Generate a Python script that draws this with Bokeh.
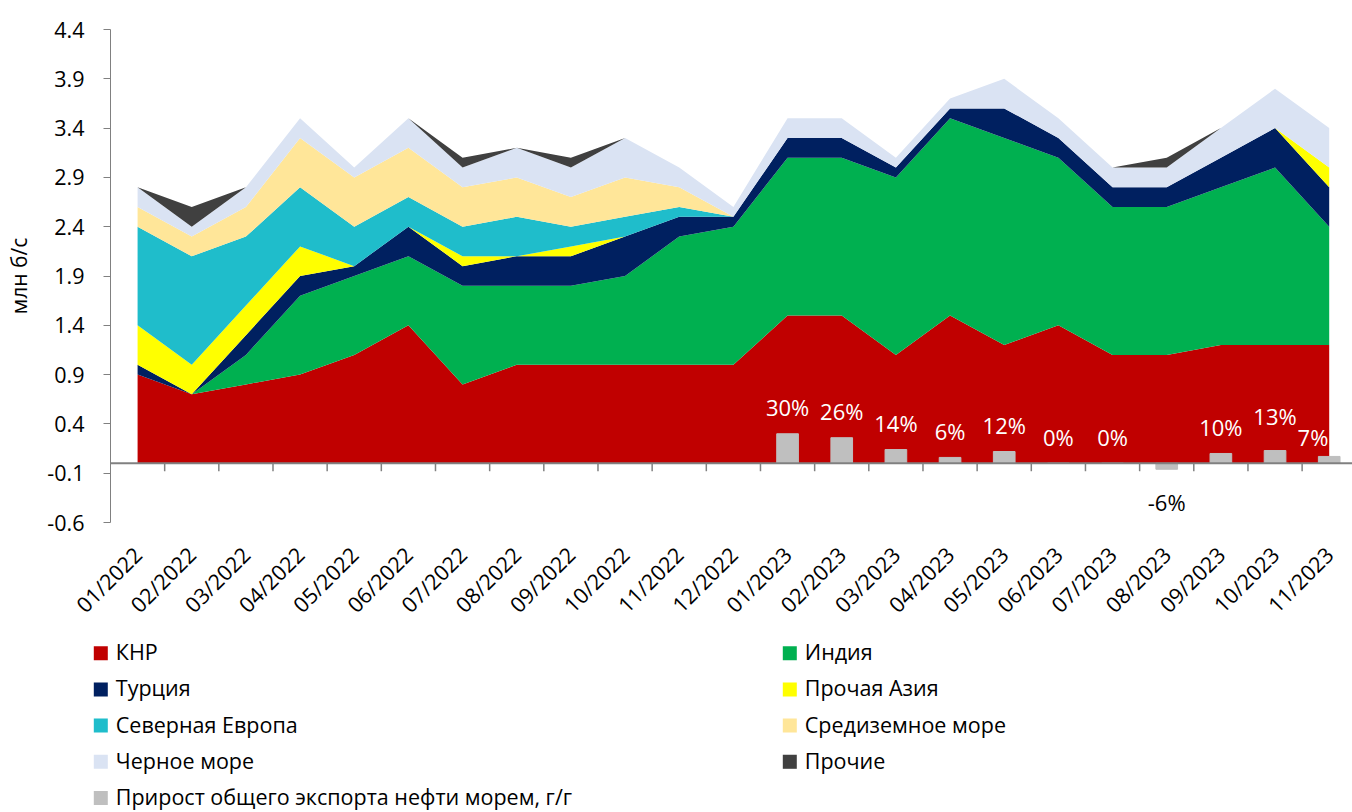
import math
from bokeh.plotting import figure
from bokeh.layouts import column
from bokeh.models import (ColumnDataSource, Range1d, FixedTicker, PrintfTickFormatter, Span)
from bokeh.core.properties import value
from bokeh.embed import file_html
from bokeh.resources import INLINE

# ---------------- data ----------------
months = ["01/2022", "02/2022", "03/2022", "04/2022", "05/2022", "06/2022",
          "07/2022", "08/2022", "09/2022", "10/2022", "11/2022", "12/2022",
          "01/2023", "02/2023", "03/2023", "04/2023", "05/2023", "06/2023",
          "07/2023", "08/2023", "09/2023", "10/2023", "11/2023"]

china      = [0.9, 0.7, 0.8, 0.9, 1.1, 1.4, 0.8, 1.0, 1.0, 1.0, 1.0, 1.0,
              1.5, 1.5, 1.1, 1.5, 1.2, 1.4, 1.1, 1.1, 1.2, 1.2, 1.2]
india      = [0.0, 0.0, 0.3, 0.8, 0.8, 0.7, 1.0, 0.8, 0.8, 0.9, 1.3, 1.4,
              1.6, 1.6, 1.8, 2.0, 2.1, 1.7, 1.5, 1.5, 1.6, 1.8, 1.2]
turkey     = [0.1, 0.0, 0.2, 0.2, 0.1, 0.3, 0.2, 0.3, 0.3, 0.4, 0.2, 0.1,
              0.2, 0.2, 0.1, 0.1, 0.3, 0.2, 0.2, 0.2, 0.3, 0.4, 0.4]
other_asia = [0.4, 0.3, 0.3, 0.3, 0.0, 0.0, 0.1, 0.0, 0.1, 0.0, 0.0, 0.0,
              0.0, 0.0, 0.0, 0.0, 0.0, 0.0, 0.0, 0.0, 0.0, 0.0, 0.2]
north_eu   = [1.0, 1.1, 0.7, 0.6, 0.4, 0.3, 0.3, 0.4, 0.2, 0.2, 0.1, 0.0,
              0.0, 0.0, 0.0, 0.0, 0.0, 0.0, 0.0, 0.0, 0.0, 0.0, 0.0]
mediterr   = [0.2, 0.2, 0.3, 0.5, 0.5, 0.5, 0.4, 0.4, 0.3, 0.4, 0.2, 0.0,
              0.0, 0.0, 0.0, 0.0, 0.0, 0.0, 0.0, 0.0, 0.0, 0.0, 0.0]
black_sea  = [0.2, 0.1, 0.2, 0.2, 0.1, 0.3, 0.2, 0.3, 0.3, 0.4, 0.2, 0.1,
              0.2, 0.2, 0.1, 0.1, 0.3, 0.2, 0.2, 0.2, 0.3, 0.4, 0.4]
others     = [0.0, 0.2, 0.0, 0.0, 0.0, 0.0, 0.1, 0.0, 0.1, 0.0, 0.0, 0.0,
              0.0, 0.0, 0.0, 0.0, 0.0, 0.0, 0.0, 0.1, 0.0, 0.0, 0.0]

growth_months = ["01/2023", "02/2023", "03/2023", "04/2023", "05/2023", "06/2023",
                 "07/2023", "08/2023", "09/2023", "10/2023", "11/2023"]
growth = [0.30, 0.26, 0.14, 0.06, 0.12, 0.00, 0.00, -0.06, 0.10, 0.13, 0.07]

series_names = ["КНР", "Индия", "Турция", "Прочая Азия", "Северная Европа",
                "Средиземное море", "Черное море", "Прочие"]
bar_name = "Прирост общего экспорта нефти морем, г/г"
y_title = "млн б/с"

# ---------------- style ----------------
colors = ["#C00000", "#00B050", "#002060", "#FFFF00", "#1FBDCB",
          "#FFE699", "#DAE3F3", "#404040"]
bar_color = "#BFBFBF"
FONT = "Open Sans"
AXIS_GRAY = "#808080"
# manual label nudges (data units) for 13% and 7%
label_dx = [0, 0, 0, 0, 0, 0, 0, 0, 0, 0, -0.3]
label_dy = [0, 0, 0, 0, 0, 0, 0, 0, 0, 0.08, -0.07]

CHART_H = 635
LEGEND_H = 812 - CHART_H
W = 1352

# ---------------- main chart ----------------
xs = list(range(len(months)))
cols = [china, india, turkey, other_asia, north_eu, mediterr, black_sea, others]
keys = [f"s{i}" for i in range(len(cols))]
src = ColumnDataSource(dict(x=xs, **{k: c for k, c in zip(keys, cols)}))

p = figure(width=W, height=CHART_H,
           x_range=Range1d(-0.5, 22.43), y_range=Range1d(-0.6, 4.4),
           output_backend="svg", toolbar_location=None,
           min_border_left=110, min_border_top=29, min_border_right=0,
           min_border_bottom=113)
p.frame_align = False
p.outline_line_color = None
p.xgrid.visible = False
p.ygrid.visible = False

p.varea_stack(stackers=keys, x="x", color=colors, source=src)

gx = [months.index(m) for m in growth_months]
bar_src = ColumnDataSource(dict(x=gx, top=growth))
p.vbar(x="x", top="top", width=0.4, color=bar_color, source=bar_src)

# zero axis line with category-boundary ticks
p.add_layout(Span(location=0, dimension="width", line_color=AXIS_GRAY, line_width=2))
bounds = [i + 0.5 for i in range(len(months) - 1)]
p.segment(x0=bounds, y0=[0] * len(bounds), x1=bounds, y1=[-0.08] * len(bounds),
          line_color=AXIS_GRAY, line_width=1.5)

# data labels
lab_x, lab_y, lab_t, lab_c = [], [], [], []
for i, (x, v) in enumerate(zip(gx, growth)):
    lab_x.append(x + label_dx[i])
    lab_y.append((v + 0.27 if v >= 0 else v - 0.33) + label_dy[i])
    lab_t.append(f"{round(v * 100)}%")
    lab_c.append("white" if v >= 0 else "black")
lab_src = ColumnDataSource(dict(x=lab_x, y=lab_y, t=lab_t, c=lab_c))
p.text(x="x", y="y", text="t", text_color="c", source=lab_src,
       text_font=value(FONT), text_font_size="22px",
       text_align="center", text_baseline="middle")

# axes
p.xaxis.ticker = FixedTicker(ticks=xs)
p.xaxis.major_label_overrides = {i: m for i, m in enumerate(months)}
p.xaxis.axis_line_color = None
p.xaxis.major_tick_line_color = None
p.xaxis.minor_tick_line_color = None
p.xaxis.major_label_orientation = math.pi / 4
p.xaxis.major_label_standoff = 22
p.xaxis.major_label_text_font = FONT
p.xaxis.major_label_text_font_size = "21.5px"
p.xaxis.major_label_text_color = "black"

p.yaxis.ticker = FixedTicker(ticks=[round(-0.6 + 0.5 * i, 1) for i in range(11)])
p.yaxis.formatter = PrintfTickFormatter(format="%.1f")
p.yaxis.axis_line_color = AXIS_GRAY
p.yaxis.major_tick_line_color = AXIS_GRAY
p.yaxis.major_tick_out = 7
p.yaxis.major_tick_in = 0
p.yaxis.minor_tick_line_color = None
p.yaxis.major_label_standoff = 19
p.yaxis.major_label_text_font = FONT
p.yaxis.major_label_text_font_size = "21.5px"
p.yaxis.major_label_text_color = "black"
p.yaxis.axis_label = y_title
p.yaxis.axis_label_text_font = FONT
p.yaxis.axis_label_text_font_size = "21px"
p.yaxis.axis_label_text_font_style = "normal"
p.yaxis.axis_label_text_color = "black"
p.yaxis.axis_label_standoff = 11

# ---------------- legend strip (pixel coordinates) ----------------
lg = figure(width=W, height=LEGEND_H,
            x_range=Range1d(0, W), y_range=Range1d(LEGEND_H, 0),
            output_backend="svg", toolbar_location=None,
            min_border_left=0, min_border_right=0, min_border_top=0, min_border_bottom=0,
            x_axis_location=None, y_axis_location=None)
lg.frame_align = False
lg.outline_line_color = None
lg.xgrid.visible = False
lg.ygrid.visible = False

legend_cols = [
    [(series_names[i], colors[i]) for i in (0, 2, 4, 6)] + [(bar_name, bar_color)],
    [(series_names[i], colors[i]) for i in (1, 3, 5, 7)],
]
col_left = [93.3, 782.3]     # left edge of the swatch in each column
first_row = 17.7             # centre of first row inside the strip
row_pitch = 36.2
swatch = 14
gap = 8
text_lift = 1.5

sw_x, sw_y, sw_c, tx_x, tx_y, tx_t = [], [], [], [], [], []
for ci, entries in enumerate(legend_cols):
    for ri, (name, col) in enumerate(entries):
        cy = first_row + ri * row_pitch
        sw_x.append(col_left[ci] + swatch / 2)
        sw_y.append(cy)
        sw_c.append(col)
        tx_x.append(col_left[ci] + swatch + gap)
        tx_y.append(cy - text_lift)
        tx_t.append(name)

lg.rect(x=sw_x, y=sw_y, width=swatch, height=swatch, fill_color=sw_c, line_color=None)
lg.text(x=tx_x, y=tx_y, text=tx_t, text_font=value(FONT), text_font_size="21.5px",
        text_color="black", text_align="left", text_baseline="middle")

layout = column(p, lg, spacing=0)
open("out.html", "w").write(file_html(layout, INLINE))
